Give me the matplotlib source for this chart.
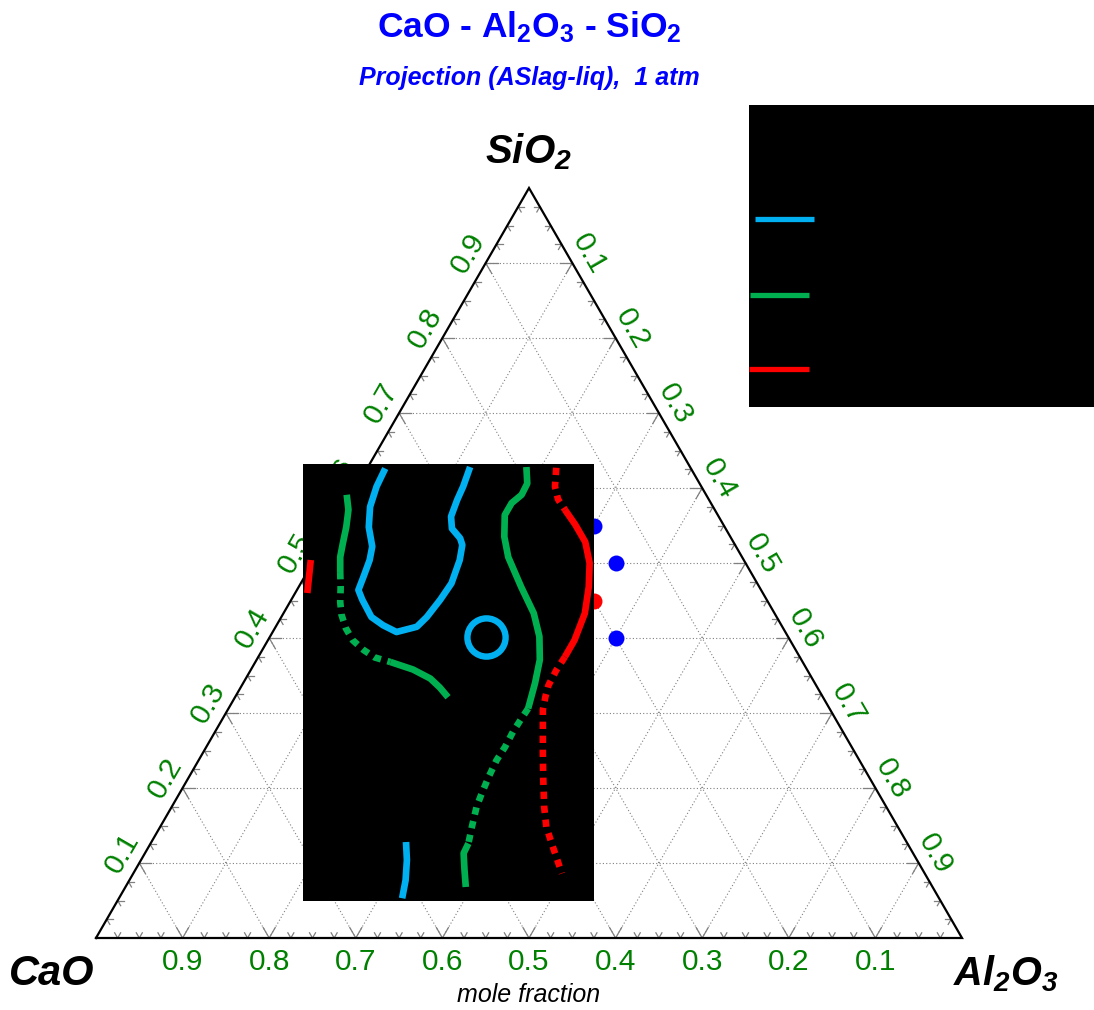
import numpy as np
import matplotlib
matplotlib.use("Agg")
import matplotlib.pyplot as plt
from matplotlib.patches import Rectangle

plt.rcParams['font.family'] = 'Liberation Sans'
plt.rcParams['mathtext.fontset'] = 'custom'
plt.rcParams['mathtext.rm'] = 'Liberation Sans'
plt.rcParams['mathtext.bf'] = 'Liberation Sans:bold'
plt.rcParams['mathtext.it'] = 'Liberation Sans:italic'
plt.rcParams['mathtext.bfit'] = 'Liberation Sans:bold:italic'

# compositions are (Al2O3, SiO2) mole fractions, CaO = 1 - Al2O3 - SiO2
blue_loop_al = [0.021, 0.023, 0.029, 0.041, 0.058, 0.064, 0.068, 0.071, 0.082, 0.104, 0.123, 0.143,
                0.163, 0.168, 0.172, 0.174, 0.168, 0.161, 0.154, 0.138, 0.129, 0.125, 0.123, 0.118]
blue_loop_si = [0.626, 0.602, 0.575, 0.548, 0.522, 0.504, 0.482, 0.464, 0.451, 0.428, 0.417, 0.408,
                0.415, 0.428, 0.451, 0.473, 0.504, 0.524, 0.533, 0.546, 0.562, 0.584, 0.602, 0.628]
blue_low_al = [0.294, 0.307, 0.319, 0.327]
blue_low_si = [0.128, 0.104, 0.077, 0.053]
blue_ring = (0.249, 0.402)

green_left_al = [-0.006, 0.006, 0.015, 0.022, 0.028, 0.038]
green_left_si = [0.591, 0.571, 0.548, 0.526, 0.508, 0.488]
green_left_dot_al = [0.038, 0.049, 0.058, 0.068, 0.082, 0.098, 0.117, 0.135, 0.156]
green_left_dot_si = [0.488, 0.467, 0.448, 0.431, 0.413, 0.397, 0.384, 0.374, 0.368]
green_arc_al = [0.156, 0.187, 0.213, 0.230, 0.246]
green_arc_si = [0.368, 0.358, 0.346, 0.334, 0.321]

green_main_al = [0.183, 0.195, 0.196, 0.190, 0.190, 0.204, 0.222, 0.257, 0.289, 0.311, 0.327, 0.337, 0.346]
green_main_si = [0.628, 0.606, 0.591, 0.580, 0.564, 0.535, 0.508, 0.468, 0.433, 0.402, 0.371, 0.340, 0.306]
green_main_dot_al = [0.346, 0.345, 0.344, 0.345, 0.344, 0.346, 0.349, 0.352, 0.360, 0.367]
green_main_dot_si = [0.306, 0.293, 0.275, 0.255, 0.237, 0.215, 0.193, 0.175, 0.148, 0.126]
green_tail_al = [0.367, 0.368, 0.380, 0.393]
green_tail_si = [0.126, 0.113, 0.091, 0.068]

red_edge_al = [-0.004, 0.014]
red_edge_si = [0.504, 0.460]
red_top_dot_al = [0.218, 0.229, 0.241, 0.256]
red_top_dot_si = [0.627, 0.602, 0.585, 0.571]
red_main_al = [0.256, 0.278, 0.301, 0.320, 0.335, 0.348, 0.354, 0.354]
red_main_si = [0.571, 0.551, 0.528, 0.500, 0.468, 0.433, 0.397, 0.375]
red_low_dot_al = [0.354, 0.353, 0.354, 0.358, 0.364, 0.375, 0.393, 0.411, 0.430, 0.446, 0.468, 0.495]
red_low_dot_si = [0.375, 0.357, 0.337, 0.322, 0.304, 0.282, 0.246, 0.211, 0.175, 0.148, 0.120, 0.086]

blue_pts_al = [0.30, 0.35, 0.40]
blue_pts_si = [0.55, 0.50, 0.40]
red_pts_al = [0.35]
red_pts_si = [0.45]

tick_values = [0.1, 0.2, 0.3, 0.4, 0.5, 0.6, 0.7, 0.8, 0.9]

H = np.sqrt(3) / 2
SKY = '#00B0F0'
GREEN = '#00B050'
RED = '#FF0000'
LABEL_GREEN = '#008000'


def tern(al, si):
    al = np.asarray(al, dtype=float)
    si = np.asarray(si, dtype=float)
    return al + si / 2, si * H


def px(x):
    return (x - 96) / 866


def py(y):
    return (938 - y) / 866


fig = plt.figure(figsize=(10.94, 10.10), dpi=100)
ax = fig.add_axes([0, 0, 1, 1])
ax.set_xlim(px(0), px(1094))
ax.set_ylim(py(1010), py(0))
ax.axis('off')

# grid
for t in tick_values:
    for a0, s0, a1, s1 in [(0, t, 1 - t, t), (t, 0, t, 1 - t), (1 - t, 0, 0, 1 - t)]:
        x, y = tern([a0, a1], [s0, s1])
        ax.plot(x, y, color='#808080', lw=0.8, ls=(0, (1, 2)), zorder=1)

# edge ticks
edges = [
    (lambda f: (f, 0.0), [(0.5, H), (-0.5, H)]),
    (lambda f: (0.0, f), [(1.0, 0.0), (0.5, -H)]),
    (lambda f: (f, 1 - f), [(-1.0, 0.0), (-0.5, -H)]),
]
for pos, dirs in edges:
    for i in range(1, 40):
        f = i * 0.025
        L = 12 / 866 if i % 4 == 0 else 6 / 866
        x0, y0 = tern(*pos(f))
        for dx, dy in dirs:
            ax.plot([x0, x0 + dx * L], [y0, y0 + dy * L], color='#808080', lw=0.9, zorder=1)

# triangle outline
ax.plot([0, 1, 0.5, 0], [0, 0, H, 0], color='black', lw=1.6, zorder=2, solid_joinstyle='miter')

# tick labels
for v in tick_values:
    ax.text(1 - v, py(962), f"{v:.1f}", ha='center', va='center', fontsize=21.5, color=LABEL_GREEN)
    x, y = tern(0, v)
    ax.text(x - 20 * 0.866 / 866, y + 20 * 0.5 / 866, f"{v:.1f}", ha='center', va='center',
            fontsize=21.5, color=LABEL_GREEN, rotation=60, rotation_mode='anchor')
    x, y = tern(v, 1 - v)
    ax.text(x + 19 * 0.866 / 866, y + 19 * 0.5 / 866, f"{v:.1f}", ha='center', va='center',
            fontsize=21.5, color=LABEL_GREEN, rotation=-60, rotation_mode='anchor')

# invariant points
x, y = tern(blue_pts_al, blue_pts_si)
ax.plot(x, y, 'o', color='#0000FF', ms=11.5, mec='none', zorder=2.5)
x, y = tern(red_pts_al, red_pts_si)
ax.plot(x, y, 'o', color=RED, ms=11.5, mec='none', zorder=2.5)

# projection panel
box = Rectangle((px(303), py(901)), (594 - 303) / 866, (901 - 464) / 866, facecolor='black',
                edgecolor='none', zorder=3)
ax.add_patch(box)

dotted = (0, (1.1, 1.0))
segments = [
    (blue_loop_al, blue_loop_si, SKY, '-'),
    (blue_low_al, blue_low_si, SKY, '-'),
    (green_left_al, green_left_si, GREEN, '-'),
    (green_left_dot_al, green_left_dot_si, GREEN, dotted),
    (green_arc_al, green_arc_si, GREEN, '-'),
    (green_main_al, green_main_si, GREEN, '-'),
    (green_main_dot_al, green_main_dot_si, GREEN, dotted),
    (green_tail_al, green_tail_si, GREEN, '-'),
    (red_edge_al, red_edge_si, RED, '-'),
    (red_top_dot_al, red_top_dot_si, RED, dotted),
    (red_main_al, red_main_si, RED, '-'),
    (red_low_dot_al, red_low_dot_si, RED, dotted),
]
for al, si, c, ls in segments:
    x, y = tern(al, si)
    line, = ax.plot(x, y, color=c, ls=ls, lw=4.8, zorder=4, solid_capstyle='butt',
                    dash_capstyle='butt', solid_joinstyle='round')
    line.set_clip_path(box)

x, y = tern(*blue_ring)
ax.plot(x, y, 'o', ms=27.5, mfc='none', mec=SKY, mew=4.6, zorder=4)

# titles and component labels
ax.text(px(529), py(37), r'CaO - Al$_\mathbf{2}$O$_\mathbf{3}$ - SiO$_\mathbf{2}$', ha='center',
        va='baseline', fontsize=25.5, fontweight='bold', color='#0000FF')
ax.text(px(529), py(85), 'Projection (ASlag-liq),  1 atm', ha='center', va='baseline', fontsize=18,
        fontweight='bold', fontstyle='italic', color='#0000FF')
ax.text(px(529), py(163), r'SiO$_\mathbfit{2}$', ha='center', va='baseline', fontsize=29,
        fontweight='bold', fontstyle='italic')
ax.text(px(52), py(985), 'CaO', ha='center', va='baseline', fontsize=30, fontweight='bold',
        fontstyle='italic')
ax.text(px(1006), py(985), r'Al$_\mathbfit{2}$O$_\mathbfit{3}$', ha='center', va='baseline',
        fontsize=28.5, fontweight='bold', fontstyle='italic')
ax.text(px(529), py(1002), 'mole fraction', ha='center', va='baseline', fontsize=18,
        fontstyle='italic')

# legend panel
leg = fig.add_axes([749 / 1094, 1 - 407 / 1010, 345 / 1094, 302 / 1010])
leg.set_facecolor('black')
leg.set_xlim(749, 1094)
leg.set_ylim(407, 105)
leg.set_xticks([])
leg.set_yticks([])
for s in leg.spines.values():
    s.set_visible(False)
for (x0, x1, yy), c in zip([(755, 814, 219), (750, 809, 295), (749, 809, 369)], [SKY, GREEN, RED]):
    leg.plot([x0, x1], [yy, yy], color=c, lw=3.8, solid_capstyle='butt')

fig.savefig('out.png', dpi=100)
